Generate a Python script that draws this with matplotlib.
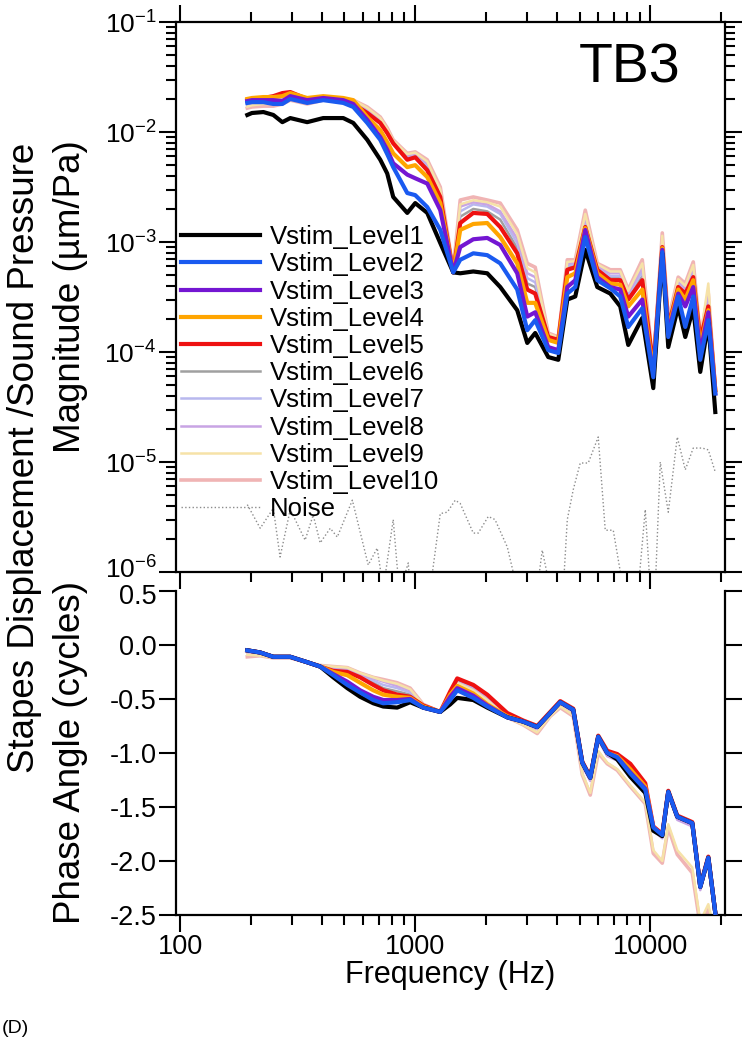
import numpy as np
import matplotlib
matplotlib.use('Agg')
import matplotlib.pyplot as plt
from matplotlib.ticker import LogLocator, NullFormatter, MultipleLocator, FixedLocator, FixedFormatter
from matplotlib.transforms import ScaledTranslation

plt.rcParams['font.family'] = ['Liberation Sans', 'DejaVu Sans']
plt.rcParams['mathtext.fontset'] = 'custom'
plt.rcParams['mathtext.rm'] = 'Liberation Sans'
plt.rcParams['mathtext.default'] = 'regular'
plt.rcParams['axes.unicode_minus'] = False

# frequency grid for magnitude (Hz)
freq = [193, 202, 226, 249, 272, 294, 347, 406, 494, 545, 625, 710, 760, 806, 925,
        1000, 1125, 1278, 1451, 1554, 1766, 2025, 2300, 2716, 2997, 3240, 3681, 4061,
        4436, 4797, 5290, 5950, 6758, 7452, 8061, 9247, 10300, 11250, 11930, 13150,
        14090, 15240, 16320, 17660, 18910]

mag_L1 = [0.0143, 0.0149, 0.0152, 0.0143, 0.0123, 0.0134, 0.0123, 0.0134, 0.0134, 0.0121,
          0.0085, 0.0056, 0.0042, 0.00257, 0.00184, 0.00226, 0.00184, 0.00098, 0.00053, 0.00052,
          0.00054, 0.00052, 0.00039, 0.00024, 0.000121, 0.000149, 0.00009, 0.000085, 0.0003, 0.00032,
          0.00085, 0.00039, 0.00034, 0.00026, 0.000116, 0.000204, 0.000047, 0.00079, 0.000111, 0.00026,
          0.000137, 0.00025, 0.000066, 0.000184, 0.0000285]
mag_L2 = [0.0184, 0.0187, 0.0187, 0.0180, 0.0180, 0.0200, 0.0184, 0.0195, 0.0184, 0.0169,
          0.0121, 0.0085, 0.0063, 0.0048, 0.00279, 0.00267, 0.00208, 0.00129, 0.00053, 0.00069,
          0.00079, 0.00076, 0.00064, 0.00037, 0.000158, 0.000195, 0.000104, 0.000098, 0.00034, 0.00039,
          0.00111, 0.00045, 0.00038, 0.00032, 0.000169, 0.00025, 0.000059, 0.00081, 0.000137, 0.00032,
          0.000169, 0.00032, 0.000085, 0.000195, 0.000042]
mag_L3 = [0.0191, 0.0195, 0.0195, 0.0195, 0.0191, 0.0212, 0.0195, 0.0204, 0.0195, 0.0180,
          0.0129, 0.0090, 0.0069, 0.0052, 0.0041, 0.0038, 0.0034, 0.00195, 0.00053, 0.00090,
          0.00106, 0.00109, 0.00094, 0.00052, 0.00021, 0.00023, 0.000111, 0.000104, 0.00039, 0.00045,
          0.00129, 0.00048, 0.00039, 0.00037, 0.00021, 0.0003, 0.000059, 0.00085, 0.000149, 0.00034,
          0.00026, 0.00039, 0.000098, 0.00023, 0.000042]
mag_L4 = [0.0200, 0.0204, 0.0208, 0.0208, 0.0212, 0.0226, 0.0204, 0.0212, 0.0204, 0.0195,
          0.0137, 0.0104, 0.0081, 0.0064, 0.0048, 0.0050, 0.0039, 0.00226, 0.00053, 0.00129,
          0.00146, 0.00149, 0.00111, 0.00064, 0.00028, 0.00028, 0.000129, 0.000121, 0.00048, 0.00052,
          0.00134, 0.00052, 0.00042, 0.00041, 0.00026, 0.00037, 0.000064, 0.00088, 0.000158, 0.00037,
          0.0003, 0.00045, 0.000111, 0.00024, 0.000045]
mag_L5 = [0.0195, 0.0200, 0.0204, 0.0212, 0.0226, 0.0231, 0.0200, 0.0200, 0.0191, 0.0180,
          0.0149, 0.0121, 0.0098, 0.0079, 0.0056, 0.0059, 0.0045, 0.00257, 0.00053, 0.00149,
          0.00184, 0.0018, 0.00137, 0.00079, 0.00037, 0.00034, 0.000137, 0.000129, 0.00056, 0.00059,
          0.00137, 0.00056, 0.00045, 0.00045, 0.0003, 0.00045, 0.000073, 0.0009, 0.000169, 0.00039,
          0.00034, 0.00048, 0.000129, 0.00026, 0.000045]
mag_L6 = [0.019, 0.0195, 0.020, 0.0205, 0.021, 0.022, 0.0195, 0.020, 0.019, 0.0185,
          0.0155, 0.0124, 0.0100, 0.0080, 0.0058, 0.0061, 0.0047, 0.0027, 0.00054, 0.0017,
          0.0020, 0.0019, 0.0016, 0.00088, 0.00042, 0.00039, 0.00014, 0.00013, 0.00058, 0.00061,
          0.0015, 0.00057, 0.00047, 0.00047, 0.00031, 0.00049, 0.000073, 0.00095, 0.000174, 0.00041,
          0.00035, 0.00051, 0.00013, 0.00028, 0.000046]
mag_L7 = [0.018, 0.0185, 0.019, 0.0195, 0.020, 0.021, 0.019, 0.0195, 0.0195, 0.019,
          0.016, 0.0128, 0.0103, 0.0082, 0.0060, 0.0062, 0.0050, 0.0028, 0.00055, 0.0019,
          0.0022, 0.0021, 0.0018, 0.00097, 0.00047, 0.00043, 0.000142, 0.000132, 0.00061, 0.00063,
          0.0016, 0.00059, 0.00049, 0.00049, 0.00033, 0.00054, 0.000073, 0.0010, 0.000179, 0.00042,
          0.00037, 0.00055, 0.000132, 0.0003, 0.000046]
mag_L8 = [0.0175, 0.018, 0.0185, 0.019, 0.019, 0.0205, 0.0185, 0.0195, 0.0195, 0.019,
          0.0163, 0.0131, 0.0105, 0.0083, 0.0061, 0.0064, 0.0052, 0.0029, 0.00055, 0.0021,
          0.0023, 0.0022, 0.0019, 0.00107, 0.00052, 0.00048, 0.000145, 0.000134, 0.00064, 0.00065,
          0.0017, 0.00061, 0.00052, 0.00052, 0.00034, 0.00059, 0.000073, 0.00107, 0.000184, 0.00044,
          0.00038, 0.00059, 0.000134, 0.00032, 0.000047]
mag_L9 = [0.017, 0.0175, 0.018, 0.018, 0.0185, 0.020, 0.0185, 0.0195, 0.0195, 0.0195,
          0.0166, 0.0134, 0.0107, 0.0084, 0.0063, 0.0065, 0.0054, 0.0030, 0.00056, 0.0022,
          0.0024, 0.0023, 0.0021, 0.00118, 0.00058, 0.00053, 0.000147, 0.000135, 0.00066, 0.00067,
          0.0018, 0.00063, 0.00054, 0.00054, 0.00036, 0.00064, 0.000073, 0.00114, 0.00019, 0.00046,
          0.0004, 0.00062, 0.000135, 0.00042, 0.000047]
mag_L10 = [0.0165, 0.0169, 0.0172, 0.0172, 0.0180, 0.0195, 0.0180, 0.0195, 0.0195, 0.0195,
           0.0169, 0.0137, 0.0109, 0.0085, 0.0064, 0.0066, 0.0056, 0.00316, 0.00056, 0.00241,
           0.00257, 0.00241, 0.00226, 0.00129, 0.00064, 0.00059, 0.000149, 0.000137, 0.00069, 0.00069,
           0.00195, 0.00064, 0.00056, 0.00056, 0.00037, 0.00069, 0.000073, 0.00121, 0.000195, 0.00048,
           0.00042, 0.00066, 0.000137, 0.00034, 0.000048]

# noise floor (values under 1e-6 are cut by the axis)
noise_freq = [193, 219, 249, 266, 294, 340, 368, 394, 435, 466, 540, 631, 689, 731, 806,
              838, 864, 934, 952, 1158, 1278, 1369, 1480, 1554, 1766, 1854, 2046, 2185, 2464,
              2716, 3304, 3471, 3754, 4264, 4436, 4702, 5036, 5447, 6006, 6434, 6959, 7676,
              8890, 9522, 10000, 10500, 11030, 11930, 13030, 14090, 15240, 16650, 17660, 18910]
noise = [4.1e-6, 2.5e-6, 3.8e-6, 1.37e-6, 3.7e-6, 1.95e-6, 3.3e-6, 1.84e-6, 2.5e-6, 2.08e-6,
         4.5e-6, 1.16e-6, 1.65e-6, 7e-7, 3.0e-6, 1.11e-6, 7e-7, 1.21e-6, 7e-7, 7e-7,
         3.4e-6, 3.5e-6, 4.5e-6, 4.2e-6, 2.26e-6, 2.26e-6, 3.2e-6, 3.0e-6, 1.69e-6, 7e-7,
         7e-7, 1.58e-6, 7e-7, 7e-7, 3.0e-6, 5.6e-6, 9.8e-6, 9.8e-6, 1.69e-5, 2.4e-6,
         2.4e-6, 7e-7, 7e-7, 3.7e-6, 7e-7, 7e-7, 1.0e-5, 3.5e-6, 1.69e-5, 8.5e-6,
         1.34e-5, 1.34e-5, 1.29e-5, 8.1e-6]

# phase (cycles)
ph_freq = [193, 219, 249, 294, 347, 394, 448, 514, 583, 663, 731, 838, 952, 1081, 1278,
           1409, 1509, 1766, 2025, 2464, 2882, 3304, 3754, 4140, 4702, 5136, 5556, 6006,
           6561, 7237, 8222, 9522, 10300, 11250, 11930, 13030, 15090, 16320, 17660, 18910]

ph_L1 = [-0.05, -0.07, -0.11, -0.11, -0.16, -0.20, -0.30, -0.40, -0.48, -0.54, -0.57, -0.58, -0.53,
         -0.58, -0.62, -0.55, -0.49, -0.51, -0.58, -0.67, -0.71, -0.76, -0.63, -0.53, -0.60, -1.09,
         -1.23, -0.85, -1.00, -1.06, -1.22, -1.37, -1.72, -1.77, -1.36, -1.59, -1.65, -2.24, -1.97, -2.48]
ph_L2 = [-0.05, -0.07, -0.11, -0.11, -0.16, -0.20, -0.28, -0.37, -0.44, -0.51, -0.54, -0.53, -0.51,
         -0.58, -0.62, -0.51, -0.42, -0.49, -0.57, -0.67, -0.71, -0.76, -0.63, -0.53, -0.60, -1.09,
         -1.23, -0.85, -1.00, -1.04, -1.19, -1.34, -1.69, -1.76, -1.36, -1.59, -1.65, -2.24, -1.97, -2.48]
ph_L3 = [-0.05, -0.07, -0.11, -0.11, -0.16, -0.20, -0.27, -0.34, -0.42, -0.48, -0.51, -0.51, -0.50,
         -0.58, -0.62, -0.48, -0.40, -0.47, -0.56, -0.67, -0.71, -0.76, -0.63, -0.53, -0.60, -1.09,
         -1.23, -0.85, -1.00, -1.04, -1.18, -1.33, -1.69, -1.76, -1.36, -1.59, -1.65, -2.24, -1.97, -2.48]
ph_L4 = [-0.05, -0.07, -0.11, -0.11, -0.16, -0.20, -0.25, -0.28, -0.35, -0.42, -0.46, -0.48, -0.49,
         -0.57, -0.62, -0.46, -0.38, -0.45, -0.55, -0.66, -0.71, -0.76, -0.63, -0.53, -0.60, -1.09,
         -1.23, -0.85, -1.00, -1.03, -1.15, -1.31, -1.69, -1.76, -1.36, -1.59, -1.65, -2.24, -1.97, -2.48]
ph_L5 = [-0.05, -0.07, -0.11, -0.11, -0.16, -0.20, -0.24, -0.25, -0.30, -0.37, -0.42, -0.46, -0.48,
         -0.56, -0.62, -0.43, -0.31, -0.37, -0.46, -0.63, -0.70, -0.75, -0.62, -0.52, -0.59, -1.08,
         -1.22, -0.84, -0.98, -1.01, -1.10, -1.28, -1.68, -1.75, -1.35, -1.58, -1.64, -2.23, -1.96, -2.48]
ph_L6 = [-0.05, -0.07, -0.11, -0.11, -0.16, -0.20, -0.23, -0.24, -0.29, -0.35, -0.40, -0.43, -0.46,
         -0.56, -0.62, -0.45, -0.33, -0.39, -0.48, -0.65, -0.71, -0.77, -0.63, -0.54, -0.61, -1.10,
         -1.24, -0.86, -1.01, -1.05, -1.19, -1.35, -1.70, -1.77, -1.37, -1.60, -1.66, -2.25, -1.98, -2.48]
ph_L7 = [-0.06, -0.08, -0.11, -0.11, -0.16, -0.20, -0.22, -0.23, -0.28, -0.33, -0.37, -0.40, -0.44,
         -0.56, -0.62, -0.50, -0.34, -0.40, -0.49, -0.66, -0.72, -0.78, -0.64, -0.55, -0.62, -1.11,
         -1.25, -0.87, -1.02, -1.06, -1.20, -1.36, -1.71, -1.78, -1.38, -1.61, -1.67, -2.26, -1.99, -2.49]
ph_L8 = [-0.07, -0.09, -0.12, -0.12, -0.16, -0.19, -0.21, -0.22, -0.27, -0.31, -0.34, -0.38, -0.42,
         -0.55, -0.62, -0.52, -0.35, -0.41, -0.50, -0.66, -0.72, -0.78, -0.64, -0.55, -0.62, -1.12,
         -1.26, -0.88, -1.03, -1.07, -1.21, -1.37, -1.72, -1.79, -1.39, -1.62, -1.68, -2.27, -2.00, -2.50]
ph_L9 = [-0.09, -0.10, -0.12, -0.12, -0.16, -0.19, -0.20, -0.21, -0.26, -0.30, -0.33, -0.36, -0.41,
         -0.55, -0.62, -0.54, -0.35, -0.42, -0.51, -0.67, -0.74, -0.81, -0.66, -0.57, -0.65, -1.19,
         -1.37, -0.98, -1.09, -1.15, -1.30, -1.46, -1.90, -2.00, -1.66, -1.90, -2.06, -2.56, -2.40, -2.68]
ph_L10 = [-0.11, -0.10, -0.12, -0.12, -0.16, -0.19, -0.20, -0.21, -0.26, -0.30, -0.32, -0.35, -0.40,
          -0.55, -0.62, -0.55, -0.35, -0.42, -0.52, -0.67, -0.74, -0.82, -0.66, -0.58, -0.66, -1.20,
          -1.39, -1.00, -1.10, -1.16, -1.31, -1.47, -1.93, -2.02, -1.69, -1.94, -2.11, -2.60, -2.45, -2.70]

labels = ['Vstim_Level%d' % i for i in range(1, 11)]
mags = [mag_L1, mag_L2, mag_L3, mag_L4, mag_L5, mag_L6, mag_L7, mag_L8, mag_L9, mag_L10]
phases = [ph_L1, ph_L2, ph_L3, ph_L4, ph_L5, ph_L6, ph_L7, ph_L8, ph_L9, ph_L10]
colors = ['#000000', '#1a5af0', '#7416d2', '#ffa500', '#ee1111',
          '#a0a0a0', '#b8b8ee', '#c8a4e4', '#f6e2a8', '#f0b4b4']
widths = [3.0, 3.0, 3.0, 3.0, 3.0, 1.8, 1.8, 1.8, 1.8, 2.6]
# pale levels at the back, black then blue on top
zorders = [6, 7, 5, 4, 3, 2, 2, 2, 2, 1]

fig = plt.figure(figsize=(7.51, 10.5), dpi=100)
ax1 = fig.add_axes([0.2344, 0.4552, 0.7310, 0.5238])
ax2 = fig.add_axes([0.2344, 0.1286, 0.7310, 0.3086])

handles = []
for k in range(10):
    ln, = ax1.plot(freq, mags[k], color=colors[k], lw=widths[k], label=labels[k], zorder=zorders[k])
    ax2.plot(ph_freq, phases[k], color=colors[k], lw=widths[k], zorder=zorders[k])
    handles.append(ln)
nl, = ax1.plot(noise_freq, noise, color='#8c8c8c', lw=1.0, ls=':', label='Noise', zorder=1)
handles.append(nl)

for ax in (ax1, ax2):
    ax.set_xscale('log')
    ax.set_xlim(96, 20800)
    ax.xaxis.set_major_locator(FixedLocator([100, 1000, 10000]))
    ax.xaxis.set_major_formatter(FixedFormatter(['100', '1000', '10000']))
    ax.xaxis.set_minor_locator(LogLocator(base=10, subs=np.arange(2, 10)))
    ax.xaxis.set_minor_formatter(NullFormatter())
    for s in ax.spines.values():
        s.set_linewidth(1.6)

ax1.set_yscale('log')
ax1.set_ylim(1e-6, 1e-1)
ax1.yaxis.set_minor_locator(LogLocator(base=10, subs=np.arange(2, 10)))
ax1.yaxis.set_minor_formatter(NullFormatter())
ax1.tick_params(which='both', direction='out', top=True, right=True, bottom=True,
                labelbottom=False, labelright=False, width=1.5, labelsize=19, pad=2)
ax1.tick_params(which='major', length=12)
ax1.tick_params(which='minor', length=7)
ax1.set_ylabel('Magnitude (\u00b5m/Pa)', fontsize=26.5)
ax1.yaxis.set_label_coords(-0.16, 0.5)
ax1.text(0.827, 0.916, 'TB3', transform=ax1.transAxes, fontsize=40, ha='center', va='center')

ax1.legend(handles=handles, loc='upper left', bbox_to_anchor=(0.0, 0.64), frameon=False,
           fontsize=18.5, handlelength=3.05, handletextpad=0.4, labelspacing=0.125,
           borderaxespad=0, borderpad=0.2)

ax2.set_ylim(-2.5, 0.5)
ax2.yaxis.set_major_locator(MultipleLocator(0.5))
ax2.yaxis.set_major_formatter(plt.FuncFormatter(lambda v, p: '%.1f' % v))
ax2.spines['top'].set_visible(False)
ax2.tick_params(which='both', direction='out', top=False, right=True, labelright=False,
                width=1.5, labelsize=19.5, pad=2)
ax2.tick_params(which='major', length=12)
ax2.tick_params(which='minor', length=7)
ax2.set_ylabel('Phase Angle (cycles)', fontsize=26.5)
ax2.yaxis.set_label_coords(-0.16, 0.5)
ax2.set_xlabel('Frequency (Hz)', fontsize=22, labelpad=0)

fig.text(0.033, 0.564, 'Stapes Displacement /Sound Pressure', rotation=90,
         fontsize=26.5, ha='center', va='center')
fig.text(0.002, 0.012, '(D)', fontsize=14, ha='left', va='bottom')

# the 1e-6 and 0.5 labels sit almost on top of each other: nudge them apart a little
fig.canvas.draw()
for lab in ax1.yaxis.get_majorticklabels():
    if np.isclose(lab.get_position()[1], 1e-6):
        lab.set_transform(lab.get_transform() + ScaledTranslation(0, 3 / 72, fig.dpi_scale_trans))
for lab in ax2.yaxis.get_majorticklabels():
    if np.isclose(lab.get_position()[1], 0.5):
        lab.set_transform(lab.get_transform() + ScaledTranslation(0, -2 / 72, fig.dpi_scale_trans))

fig.savefig('out.png', dpi=100)
